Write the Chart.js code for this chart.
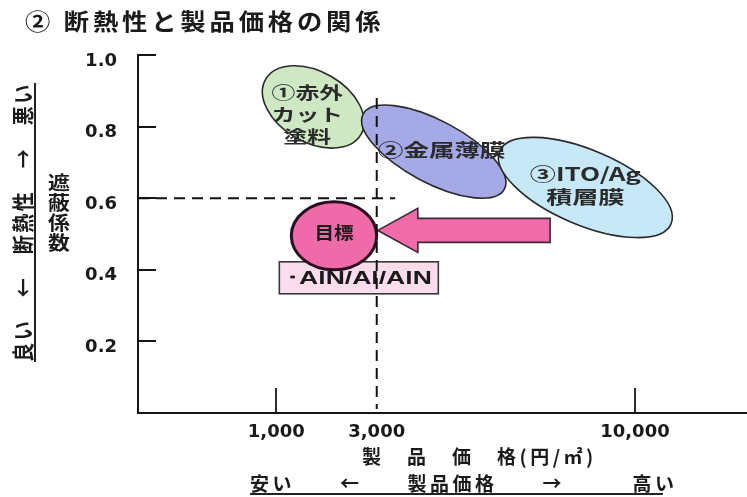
<!DOCTYPE html>
<html lang="ja">
<head>
<meta charset="utf-8">
<title>断熱性と製品価格の関係</title>
<script src="https://cdn.jsdelivr.net/npm/chart.js@4.4.1/dist/chart.umd.min.js"></script>
<style>
  html, body { margin: 0; padding: 0; background: #fff; }
  canvas { display: block; }
</style>
</head>
<body>
<canvas id="c" width="747" height="497"></canvas>
<script>
// ---- price axis (円/㎡): non-uniform stops of the drawing's price axis ----
const priceStops = [0, 1000, 3000, 10000, 13000];
const priceStopShares = [0, 0.227, 0.392, 0.816, 1];
const xTickValues = [1000, 3000, 10000];
const xTickLabels = ['1,000', '3,000', '10,000'];

// ---- shading coefficient axis ----
const yTickValues = [0.2, 0.4, 0.6, 0.8, 1.0];
const yTickLabels = ['0.2', '0.4', '0.6', '0.8', '1.0'];

// ---- existing products: price range and shading-coefficient range ----
const productNames = [['①赤外', 'カット', '塗料'], ['②金属薄膜'], ['③ITO/Ag', '積層膜']];
const productPriceLow = [900, 2700, 6300];
const productPriceHigh = [2750, 6500, 11000];
const productCoefLow = [0.74, 0.60, 0.49];
const productCoefHigh = [0.97, 0.86, 0.77];

// ---- development target ----
const targetName = '目標';
const targetMaterial = '･AlN/Al/AlN';
const targetPriceRange = [1300, 3000];
const targetCoefRange = [0.40, 0.59];

// ---- arrow from the ITO/Ag region towards the target ----
const arrowPriceFrom = 7700;
const arrowPriceTo = 3030;
const arrowCoef = 0.51;

// ---- dashed limit lines ----
const limitPrice = 3000;
const limitPriceLineTop = 0.88;
const limitCoef = 0.6;
const limitCoefLineEnd = 3500;

// ---- styles ----
const productFills = ['#cde8c3', '#a5a9e6', '#c7e9f7'];
const productTiltDeg = [30, 28, 23];
const productLabelStyle = [
  { font: 17, sx: 1.4, dx: -6, dy: [-14, 8, 30] },
  { font: 18, sx: 1.42, dx: 8, dy: [-2] },
  { font: 18, sx: 1.45, dx: 0, dy: [-13, 10] }
];
const INK = '#1a1a1a';
const JP = "'Noto Sans CJK JP', 'Noto Sans', sans-serif";

// Price scale: piecewise linear between the stops above
function priceToShare(v) {
  for (let i = 1; i < priceStops.length; i++) {
    if (v <= priceStops[i] || i === priceStops.length - 1) {
      const t = (v - priceStops[i - 1]) / (priceStops[i] - priceStops[i - 1]);
      return priceStopShares[i - 1] + t * (priceStopShares[i] - priceStopShares[i - 1]);
    }
  }
  return 0;
}
function shareToPrice(s) {
  for (let i = 1; i < priceStopShares.length; i++) {
    if (s <= priceStopShares[i] || i === priceStopShares.length - 1) {
      const t = (s - priceStopShares[i - 1]) / (priceStopShares[i] - priceStopShares[i - 1]);
      return priceStops[i - 1] + t * (priceStops[i] - priceStops[i - 1]);
    }
  }
  return 0;
}
class PriceScale extends Chart.LinearScale {
  getPixelForValue(value) { return this.getPixelForDecimal(priceToShare(value)); }
  getValueForPixel(pixel) { return shareToPrice(this.getDecimalForPixel(pixel)); }
}
PriceScale.id = 'price';
PriceScale.defaults = Object.assign({}, Chart.LinearScale.defaults);
Chart.register(PriceScale);

function drawText(ctx, s, x, y, o) {
  ctx.save();
  ctx.translate(x, y);
  if (o.rot) ctx.rotate(o.rot);
  ctx.font = o.font;
  ctx.letterSpacing = (o.ls || 0) + 'px';
  let sx = o.sx || 1;
  if (o.w) sx = o.w / ctx.measureText(s).width;
  ctx.scale(sx, o.sy || 1);
  ctx.textAlign = o.align || 'center';
  ctx.textBaseline = 'middle';
  ctx.fillStyle = o.color || INK;
  ctx.fillText(s, 0, 0);
  ctx.restore();
}

function ellipseFromBox(x1, y1, x2, y2, tiltDeg) {
  const hw = Math.abs(x2 - x1) / 2, hh = Math.abs(y2 - y1) / 2;
  const th = tiltDeg * Math.PI / 180;
  const c2 = Math.cos(th) ** 2, s2 = Math.sin(th) ** 2;
  let a = hw, b = hh;
  if (Math.abs(c2 - s2) > 1e-6 && tiltDeg !== 0) {
    a = Math.sqrt(Math.max((hw * hw * c2 - hh * hh * s2) / (c2 - s2), 1));
    b = Math.sqrt(Math.max((hh * hh * c2 - hw * hw * s2) / (c2 - s2), 1));
  }
  return { cx: (x1 + x2) / 2, cy: (y1 + y2) / 2, a, b, th };
}

const diagram = {
  id: 'diagram',
  afterDraw(chart) {
    const { ctx, chartArea: area } = chart;
    const xs = chart.scales.x, ys = chart.scales.y;
    const X = v => xs.getPixelForValue(v), Y = v => ys.getPixelForValue(v);

    // inward tick marks
    ctx.save();
    ctx.strokeStyle = '#151515';
    ctx.lineWidth = 2;
    yTickValues.forEach(v => {
      const py = Math.round(Y(v));
      ctx.beginPath(); ctx.moveTo(area.left, py); ctx.lineTo(area.left + 18, py); ctx.stroke();
    });
    ctx.lineWidth = 1.8;
    xTickValues.forEach(v => {
      if (v === limitPrice) return;
      const px = Math.round(X(v));
      ctx.beginPath(); ctx.moveTo(px, area.bottom); ctx.lineTo(px, area.bottom - 25); ctx.stroke();
    });
    ctx.restore();

    // product regions
    const regions = productNames.map((_, i) => {
      const e = ellipseFromBox(X(productPriceLow[i]), Y(productCoefHigh[i]),
                               X(productPriceHigh[i]), Y(productCoefLow[i]), productTiltDeg[i]);
      ctx.save();
      ctx.beginPath();
      ctx.ellipse(e.cx, e.cy, e.a, e.b, e.th, 0, Math.PI * 2);
      ctx.fillStyle = productFills[i];
      ctx.fill();
      ctx.lineWidth = 1.6;
      ctx.strokeStyle = '#2a2a2a';
      ctx.stroke();
      ctx.restore();
      return e;
    });

    // arrow towards the target
    {
      const tipX = X(arrowPriceTo), tailX = X(arrowPriceFrom), cy = Y(arrowCoef);
      const headLen = 40, headHalf = 22, shaftHalf = 12;
      ctx.save();
      ctx.beginPath();
      ctx.moveTo(tipX, cy);
      ctx.lineTo(tipX + headLen, cy - headHalf);
      ctx.lineTo(tipX + headLen, cy - shaftHalf);
      ctx.lineTo(tailX, cy - shaftHalf);
      ctx.lineTo(tailX, cy + shaftHalf);
      ctx.lineTo(tipX + headLen, cy + shaftHalf);
      ctx.lineTo(tipX + headLen, cy + headHalf);
      ctx.closePath();
      ctx.fillStyle = '#f06ca8';
      ctx.fill();
      ctx.lineWidth = 1.6;
      ctx.strokeStyle = '#3a2a33';
      ctx.stroke();
      ctx.restore();
    }

    // target: material box and circle
    const tx1 = X(targetPriceRange[0]), tx2 = X(targetPriceRange[1]);
    const ty1 = Y(targetCoefRange[1]), ty2 = Y(targetCoefRange[0]);
    const boxL = tx1 - 12, boxT = ty2 - 8, boxW = 159, boxH = 32;
    ctx.save();
    ctx.fillStyle = '#fadcec';
    ctx.fillRect(boxL, boxT, boxW, boxH);
    ctx.lineWidth = 1.6;
    ctx.strokeStyle = '#3a3a3a';
    ctx.strokeRect(boxL, boxT, boxW, boxH);
    ctx.restore();
    drawText(ctx, targetMaterial, boxL + boxW / 2, boxT + boxH / 2 + 1,
      { font: "bold 18px 'Liberation Sans', Arial, sans-serif", w: 146 });

    ctx.save();
    ctx.beginPath();
    ctx.ellipse((tx1 + tx2) / 2, (ty1 + ty2) / 2, (tx2 - tx1) / 2, (ty2 - ty1) / 2, 0, 0, Math.PI * 2);
    ctx.fillStyle = '#ef6aa8';
    ctx.fill();
    ctx.lineWidth = 3;
    ctx.strokeStyle = '#2b0d22';
    ctx.stroke();
    ctx.restore();
    drawText(ctx, targetName, (tx1 + tx2) / 2, (ty1 + ty2) / 2 - 3,
      { font: `bold 17px ${JP}`, sx: 1.15 });

    // product labels
    regions.forEach((e, i) => {
      const st = productLabelStyle[i];
      productNames[i].forEach((line, j) => {
        drawText(ctx, line, e.cx + st.dx, e.cy + st.dy[j],
          { font: `bold ${st.font}px ${JP}`, sx: st.sx, color: '#2b2b2b' });
      });
    });

    // dashed limit lines
    ctx.save();
    ctx.strokeStyle = '#111';
    ctx.lineWidth = 2;
    ctx.setLineDash([11, 7]);
    ctx.beginPath();
    ctx.moveTo(area.left, Y(limitCoef));
    ctx.lineTo(X(limitCoefLineEnd), Y(limitCoef));
    ctx.stroke();
    ctx.beginPath();
    ctx.moveTo(X(limitPrice), Y(limitPriceLineTop));
    ctx.lineTo(X(limitPrice), area.bottom - 4);
    ctx.stroke();
    ctx.restore();

    // titles
    drawText(ctx, '② 断熱性と製品価格の関係', 25, 21,
      { font: `bold 23px ${JP}`, sx: 1.1, ls: 3.5, align: 'left' });

    // vertical axis captions
    drawText(ctx, '良い　←　断熱性　→　悪い', 23, 222,
      { font: `bold 19px ${JP}`, ls: 2.5, sy: 1.15, rot: -Math.PI / 2 });
    ctx.save();
    ctx.strokeStyle = '#222';
    ctx.lineWidth = 2;
    ctx.beginPath(); ctx.moveTo(35, 83); ctx.lineTo(35, 362); ctx.stroke();
    ctx.restore();
    ['遮', '蔽', '係', '数'].forEach((ch, i) => {
      drawText(ctx, ch, 59, 183 + i * 20, { font: `bold 19px ${JP}`, sx: 1.15 });
    });

    // horizontal axis captions
    drawText(ctx, '製　品　価　格(円/㎡)', 362, 457,
      { font: `bold 19px ${JP}`, ls: 3.5, align: 'left' });
    drawText(ctx, '安い　　←　　製品価格　　→　　　高い', 250, 484,
      { font: `bold 19px ${JP}`, ls: 3.5, align: 'left' });
    ctx.save();
    ctx.strokeStyle = '#222';
    ctx.lineWidth = 2;
    ctx.beginPath(); ctx.moveTo(250, 494); ctx.lineTo(663, 494); ctx.stroke();
    ctx.restore();
  }
};

const tickFont = { family: "'DejaVu Sans', sans-serif", size: 18, weight: 'bold' };

new Chart(document.getElementById('c'), {
  type: 'scatter',
  data: { datasets: [] },
  plugins: [diagram],
  options: {
    responsive: false,
    animation: false,
    devicePixelRatio: 1,
    layout: { padding: { top: 55, left: 0, right: 0, bottom: 0 } },
    plugins: { legend: { display: false }, title: { display: false }, tooltip: { enabled: false } },
    scales: {
      x: {
        type: 'price',
        min: 0,
        max: 13000,
        afterBuildTicks: s => { s.ticks = xTickValues.map(v => ({ value: v })); },
        afterFit: s => { s.height = 84; },
        grid: { display: false, drawTicks: false },
        border: { display: true, color: '#151515', width: 2 },
        ticks: {
          autoSkip: false, maxRotation: 0, minRotation: 0, padding: 9,
          color: INK, font: tickFont,
          callback: v => xTickLabels[xTickValues.indexOf(v)]
        }
      },
      y: {
        type: 'linear',
        min: 0,
        max: 1,
        afterBuildTicks: s => { s.ticks = yTickValues.map(v => ({ value: v })); },
        afterFit: s => { s.width = 138; },
        grid: { display: false, drawTicks: false },
        border: { display: true, color: '#151515', width: 2 },
        ticks: {
          padding: 21, labelOffset: 6,
          color: INK, font: tickFont,
          callback: v => yTickLabels[yTickValues.indexOf(v)]
        }
      }
    }
  }
});
</script>
</body>
</html>
